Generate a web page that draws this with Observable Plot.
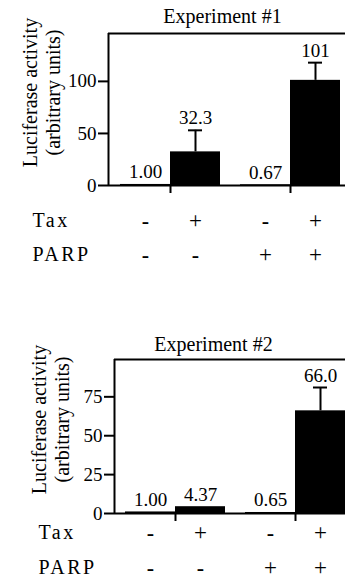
<!DOCTYPE html>
<html><head><meta charset="utf-8">
<script src="https://cdn.jsdelivr.net/npm/d3@7"></script>
<script src="https://cdn.jsdelivr.net/npm/@observablehq/plot@0.6"></script>
<style>
body{margin:0;background:#fff;}
.panel{position:relative;width:345px;}
.panel svg{position:absolute;left:0;top:0;}
.panel svg text{font-family:"Liberation Serif","Times New Roman",serif !important;}
.rowlab text{letter-spacing:2.5px;}
</style></head><body>
<div id="p1" class="panel" style="height:300px"></div>
<div id="p2" class="panel" style="height:282px"></div>
<script>
// ---- data ----
const taxSigns = ["-", "+", "-", "+"];
const parpSigns = ["-", "-", "+", "+"];
const exp1Values = [1.00, 32.3, 0.67, 101];
const exp1ErrTop = [null, 53, null, 118];
const exp1Labels = ["1.00", "32.3", "0.67", "101"];
const exp2Values = [1.00, 4.37, 0.65, 66.0];
const exp2ErrTop = [null, null, null, 81];
const exp2Labels = ["1.00", "4.37", "0.65", "66.0"];
const exp1Ticks = [0, 50, 100];
const exp2Ticks = [0, 25, 50, 75];
const titles = ["Experiment #1", "Experiment #2"];
const yLabel = "Luciferase activity\n(arbitrary units)";
const rowLabels = ["Tax", "PARP"];

// ---- layout ----
const panels = [
  {el: "p1", values: exp1Values, errs: exp1ErrTop, labels: exp1Labels, ticks: exp1Ticks, title: titles[0],
   height: 300, mt: 33, mb: 115, ml: 108, mrBars: 5, yMax: 146, padOuter: 0.05,
   titleDx: 114, titleDy: -11, labelDx: -67.5, labelDy: -17, rowDy: [35, 69]},
  {el: "p2", values: exp2Values, errs: exp2ErrTop, labels: exp2Labels, ticks: exp2Ticks, title: titles[1],
   height: 282, mt: 59, mb: 69, ml: 114, mrBars: 0, yMax: 99, padOuter: 0.0458,
   titleDx: 99, titleDy: -9, labelDx: -64.5, labelDy: -17, rowDy: [19, 54]}
];

const serif = "Liberation Serif";

for (const p of panels) {
  const rows = taxSigns.map((t, i) => ({tax: t, parp: parpSigns[i], value: p.values[i], err: p.errs[i], label: p.labels[i]}));
  const errRows = rows.filter(d => d.err != null);

  const frame = Plot.plot({
    width: 345, height: p.height,
    marginTop: p.mt, marginBottom: p.mb, marginLeft: p.ml, marginRight: 0,
    style: {fontFamily: serif, fontSize: "19px", color: "black", background: "white"},
    x: {domain: [0, 1], axis: null},
    y: {domain: [0, p.yMax], axis: null},
    marks: [
      Plot.axisY({ticks: p.ticks, tickSize: 10, tickPadding: 2, strokeWidth: 2, label: null, fontFamily: serif}),
      Plot.ruleX([0], {strokeWidth: 2}),
      Plot.ruleY([0, p.yMax], {strokeWidth: 2}),
      Plot.text([p.title], {frameAnchor: "top-left", textAnchor: "middle", lineAnchor: "bottom",
        dx: p.titleDx, dy: p.titleDy, fontSize: 20, fontFamily: serif}),
      Plot.text([yLabel], {frameAnchor: "left", rotate: -90, textAnchor: "middle", lineAnchor: "middle",
        lineHeight: 1.15, dx: p.labelDx, dy: p.labelDy, fontSize: 20, fontFamily: serif}),
      Plot.text([rowLabels[0]], {y: () => 0, frameAnchor: "left", text: d => d, textAnchor: "start",
        lineAnchor: "middle", dx: -76, dy: p.rowDy[0], fontFamily: serif, fontSize: 20, className: "rowlab"}),
      Plot.text([rowLabels[1]], {y: () => 0, frameAnchor: "left", text: d => d, textAnchor: "start",
        lineAnchor: "middle", dx: -76, dy: p.rowDy[1], fontFamily: serif, fontSize: 20, className: "rowlab"})
    ]
  });

  const signMarks = (key, dy) => [
    Plot.text(rows.filter(d => d[key] === "+"), {fx: "parp", x: "tax", y: () => 0, text: key,
      lineAnchor: "middle", dy, fontFamily: serif, fontSize: 23}),
    Plot.text(rows.filter(d => d[key] === "-"), {fx: "parp", x: "tax", y: () => 0, text: key,
      lineAnchor: "middle", dy, fontFamily: serif, fontSize: 22, fontWeight: "bold"})
  ];

  const bars = Plot.plot({
    width: 345, height: p.height,
    marginTop: p.mt, marginBottom: p.mb, marginLeft: p.ml, marginRight: p.mrBars,
    style: {fontFamily: serif, fontSize: "19px", color: "black", background: "transparent"},
    x: {domain: ["-", "+"], padding: 0, axis: null},
    y: {domain: [0, p.yMax], axis: null},
    fx: {domain: ["-", "+"], paddingInner: 1 / 6, paddingOuter: p.padOuter, align: 1},
    marks: [
      Plot.axisFx({anchor: "bottom", tickSize: 8, tickFormat: () => "", strokeWidth: 2, label: null}),
      Plot.barY(rows, {fx: "parp", x: "tax", y: "value", fill: "black"}),
      Plot.ruleX(errRows, {fx: "parp", x: "tax", y1: "value", y2: "err", strokeWidth: 2}),
      Plot.tickY(errRows, {fx: "parp", x: "tax", y: "err", insetLeft: 18, insetRight: 18, strokeWidth: 2}),
      Plot.text(rows, {fx: "parp", x: "tax", y: d => d.err ?? d.value, text: "label", lineAnchor: "bottom", dy: -6, fontFamily: serif}),
      ...signMarks("tax", p.rowDy[0]),
      ...signMarks("parp", p.rowDy[1])
    ]
  });

  const el = document.getElementById(p.el);
  el.appendChild(frame);
  el.appendChild(bars);
}
</script>
</body></html>
